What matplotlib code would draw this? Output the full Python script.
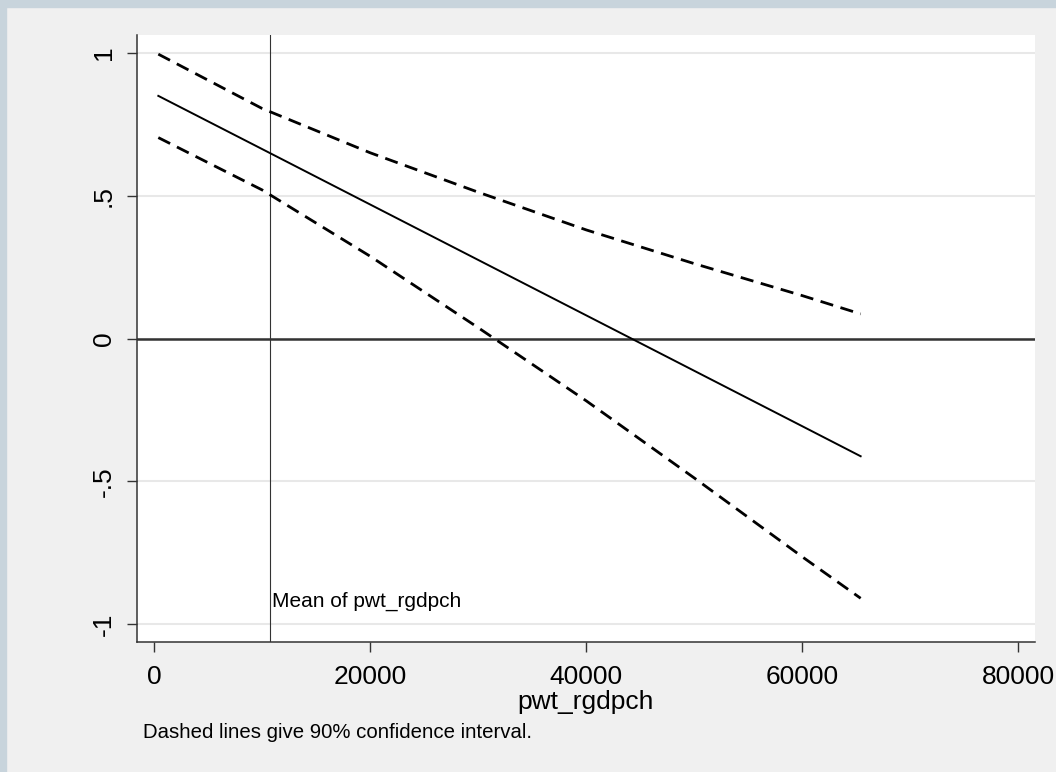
import matplotlib
matplotlib.use("Agg")
import matplotlib.pyplot as plt
from matplotlib.patches import Rectangle

# marginal effect and 90% CI
x_vals = [400, 10000, 20000, 30000, 40000, 50000, 60000, 65400]
effect = [0.849, 0.663, 0.469, 0.275, 0.081, -0.113, -0.307, -0.412]
upper = [0.995, 0.805, 0.650, 0.512, 0.380, 0.262, 0.150, 0.086]
lower = [0.703, 0.520, 0.288, 0.038, -0.218, -0.488, -0.764, -0.909]

mean_x = 10700
x_ticks = [0, 20000, 40000, 60000, 80000]
y_ticks = [-1, -0.5, 0, 0.5, 1]
y_labels = ["-1", "-.5", "0", ".5", "1"]

plt.rcParams['font.family'] = ['Liberation Sans', 'DejaVu Sans']
plt.rcParams['lines.scale_dashes'] = False

W, H = 1056, 772
fig = plt.figure(figsize=(W / 100, H / 100), dpi=100, facecolor='#f0f0f0')
# bluish frame on the top and left edges
fig.patches.append(Rectangle((0, 1 - 7 / H), 1, 7 / H, transform=fig.transFigure,
                             color='#c8d4dc', zorder=0))
fig.patches.append(Rectangle((0, 0), 6 / W, 1, transform=fig.transFigure,
                             color='#c8d4dc', zorder=0))

ax = fig.add_axes([137 / W, (H - 642) / H, (1035 - 137) / W, (642 - 35) / H])
ax.set_facecolor('white')

for y in y_ticks:
    ax.axhline(y, color='#e8e8e8', lw=1.5, zorder=1)
ax.axhline(0, color='#333333', lw=1.8, zorder=2)
ax.axvline(mean_x, color='#333333', lw=0.8, zorder=2)

ax.plot(x_vals, effect, color='black', lw=1.4, zorder=3)
ax.plot(x_vals, upper, color='black', lw=2.0, dashes=(9.5, 5.5), zorder=3)
ax.plot(x_vals, lower, color='black', lw=2.0, dashes=(9.5, 5.5), zorder=3)

ax.annotate("Mean of pwt_rgdpch", xy=(mean_x, -0.92), xytext=(2, 0),
            textcoords='offset points', va='center', ha='left', fontsize=15)

ax.set_xlim(-1573, 81536)
ax.set_ylim(-1.062, 1.062)
ax.set_xticks(x_ticks)
ax.set_xticklabels([str(t) for t in x_ticks])
ax.set_yticks(y_ticks)
ax.set_yticklabels(y_labels, rotation=90, va='center')

for s in ['top', 'right']:
    ax.spines[s].set_visible(False)
for s in ['left', 'bottom']:
    ax.spines[s].set_color('#333333')
    ax.spines[s].set_linewidth(1.1)

ax.tick_params(axis='both', length=7.2, width=1.0, color='#333333', labelsize=19)
ax.tick_params(axis='x', pad=9)
ax.tick_params(axis='y', pad=8)
ax.set_xlabel("pwt_rgdpch", fontsize=19, labelpad=1)

fig.text(143 / W, 1 - 733 / H, "Dashed lines give 90% confidence interval.",
         fontsize=14.7, va='center', ha='left')

fig.savefig("out.png", dpi=100, facecolor=fig.get_facecolor())
